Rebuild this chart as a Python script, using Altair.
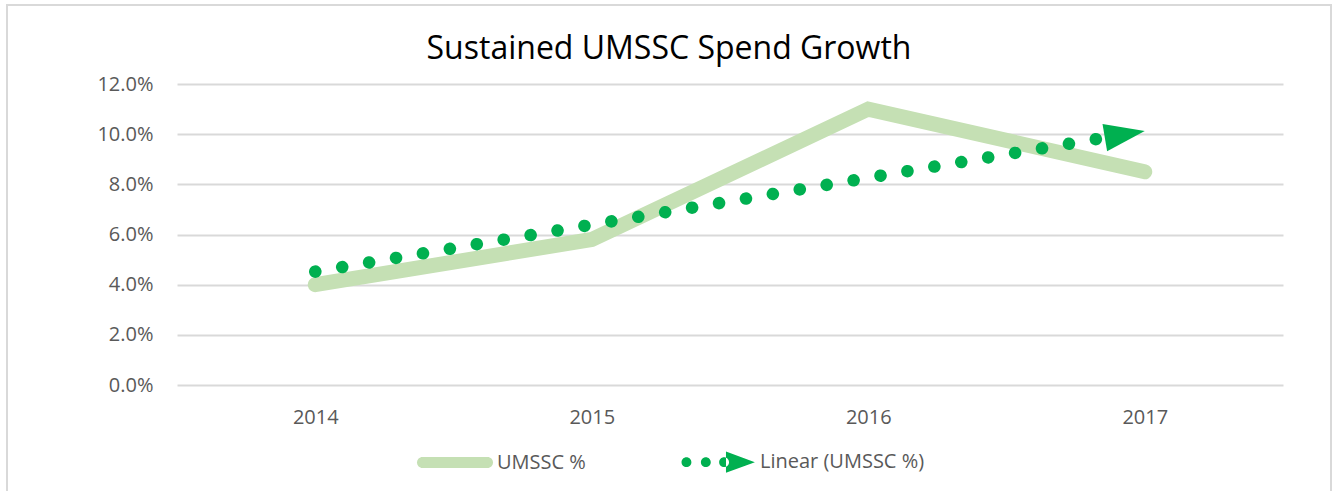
import altair as alt
import pandas as pd

# ---- data ----
years = [2014, 2015, 2016, 2017]
umssc_pct = [0.040, 0.058, 0.110, 0.085]
series_names = ["UMSSC %", "Linear (UMSSC %)"]
series_colors = ["#C5E0B4", "#00B050"]
y_ticks = [0.0, 0.02, 0.04, 0.06, 0.08, 0.10, 0.12]
title_text = "Sustained UMSSC Spend Growth"

df = pd.DataFrame({"year": years, "value": umssc_pct})
legend_df = pd.DataFrame({"series": series_names})
frame_df = pd.DataFrame({"k": [0]})

FONT = "Open Sans"
GRID = "#D9D9D9"
LABEL = "#595959"

# symbol paths (style only)
ARROW_PATH = "M0,0L-2,-0.68L-2,0.68Z"
LINE_SYM = ("M-0.855,-0.145L0.855,-0.145A0.145,0.145,0,0,1,0.855,0.145"
            "L-0.855,0.145A0.145,0.145,0,0,1,-0.855,-0.145Z")


def circ(cx, r=0.13):
    return f"M{cx - r},0A{r},{r},0,1,0,{cx + r},0A{r},{r},0,1,0,{cx - r},0Z"


TREND_SYM = circ(-0.83) + circ(-0.32) + circ(0.16) + "M0.21,-0.28L0.97,0L0.21,0.28Z"

x_enc = alt.X(
    "year:Q",
    scale=alt.Scale(domain=[2013.5, 2017.5], nice=False, zero=False),
    axis=alt.Axis(values=years, format="d", title=None, grid=False, domain=False,
                  ticks=False, labelPadding=22, labelFont=FONT, labelFontSize=20,
                  labelColor=LABEL),
)
y_enc = alt.Y(
    "value:Q",
    scale=alt.Scale(domain=[0, 0.12], nice=False, zero=True),
    axis=alt.Axis(values=y_ticks, format=".1%", title=None, grid=True, gridColor=GRID,
                  gridWidth=2, domain=False, ticks=False, labelPadding=24,
                  labelFont=FONT, labelFontSize=20, labelColor=LABEL),
)

base = alt.Chart(df)

frame = alt.Chart(frame_df).mark_rect(
    fillOpacity=0, stroke=GRID, strokeWidth=2
).encode(
    x=alt.value(-170), x2=alt.value(1154), y=alt.value(-79), y2=alt.value(520)
)

line = base.mark_line(
    color=series_colors[0], strokeWidth=15, strokeCap="round", strokeJoin="miter"
).encode(x=x_enc, y=y_enc)

trend = base.transform_regression("year", "value", method="linear").mark_line(
    color=series_colors[1], strokeWidth=12.5, strokeCap="round", strokeDash=[0.1, 27.2]
).encode(x="year:Q", y="value:Q")

arrow = base.transform_regression("year", "value", method="linear").transform_filter(
    "datum.year > 2016.9"
).mark_point(
    shape=ARROW_PATH, filled=True, size=1640, angle=350.4, color=series_colors[1],
    opacity=1, strokeWidth=0
).encode(x="year:Q", y="value:Q")

leg = alt.Legend(
    title=None, orient="none", direction="horizontal", legendX=240, legendY=340,
    padding=0, symbolSize=5776, symbolStrokeWidth=0, symbolOpacity=1,
    labelFont=FONT, labelFontSize=20, labelColor=LABEL, labelOffset=4,
    labelLimit=400, columnPadding=94,
)

legend_layer = alt.Chart(legend_df).mark_point(filled=True, opacity=0, size=10).encode(
    color=alt.Color("series:N", scale=alt.Scale(domain=series_names, range=series_colors),
                    legend=leg, sort=series_names),
    shape=alt.Shape("series:N", scale=alt.Scale(domain=series_names,
                                                range=[LINE_SYM, TREND_SYM]),
                    legend=leg, sort=series_names),
)

chart = alt.layer(frame, line, trend, arrow, legend_layer).properties(
    width=1106,
    height=301,
    title=alt.TitleParams(title_text, font=FONT, fontSize=32, fontWeight="normal",
                          color="#000000", anchor="middle", dx=-61,
                          baseline="alphabetic", offset=-87),
    autosize=alt.AutoSizeParams(type="none"),
    padding={"left": 177, "top": 84, "right": 50, "bottom": 106},
    background="white",
).configure_view(stroke=None)

chart.save("out.html", embed_options={"renderer": "svg", "actions": False})
